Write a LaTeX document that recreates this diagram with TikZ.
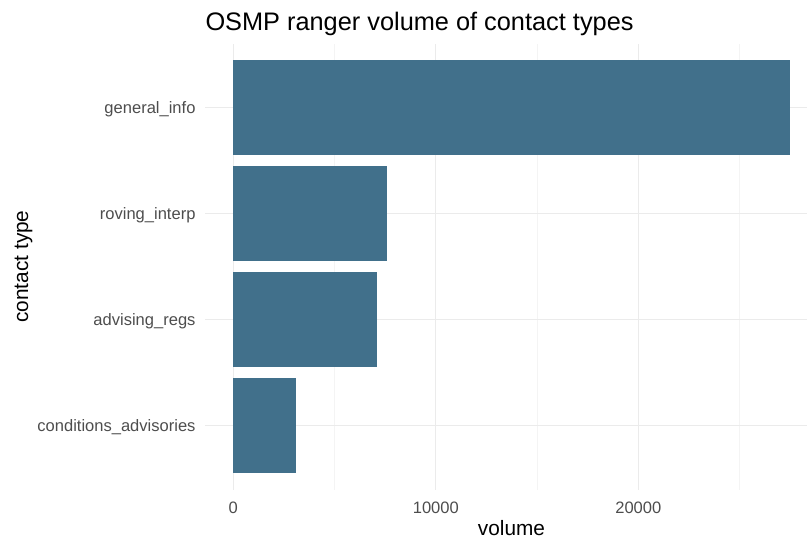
\documentclass[tikz,border=0pt]{standalone}
\usepackage{fontspec}
\setmainfont{Liberation Sans}

\definecolor{barfill}{RGB}{65,112,139}
\definecolor{gridmajor}{RGB}{235,235,235}
\definecolor{gridminor}{RGB}{244,244,244}
\definecolor{ticktext}{RGB}{77,77,77}

\tikzset{every picture/.style={line width=0.75pt}}
\tikzset{
  majorgrid/.style={draw=gridmajor, line width=0.8pt},
  minorgrid/.style={draw=gridminor, line width=0.45pt},
  bar/.style={fill=barfill, draw=none},
  ylab/.style={anchor=base east, inner sep=0pt, text=ticktext, font=\fontsize{12.4}{14}\selectfont},
  xlab/.style={anchor=base, inner sep=0pt, text=ticktext, font=\fontsize{12.4}{14}\selectfont},
  axistitle/.style={inner sep=0pt, font=\fontsize{15.6}{18}\selectfont},
}

\begin{document}
\begin{tikzpicture}[x=0.75pt,y=0.75pt,yscale=-1,xscale=1]
	\useasboundingbox (0,0) rectangle (807,539); %set diagram to 807 x 539

	%Minor grid lines
	\draw [minorgrid] (334.3,44) -- (334.3,490) ;
	\draw [minorgrid] (536.8,44) -- (536.8,490) ;
	\draw [minorgrid] (739.3,44) -- (739.3,490) ;
	%Major grid lines
	\draw [majorgrid] (233.3,44) -- (233.3,490) ;
	\draw [majorgrid] (435.8,44) -- (435.8,490) ;
	\draw [majorgrid] (638.3,44) -- (638.3,490) ;
	\draw [majorgrid] (205,107.5) -- (807,107.5) ;
	\draw [majorgrid] (205,213.5) -- (807,213.5) ;
	\draw [majorgrid] (205,319.6) -- (807,319.6) ;
	\draw [majorgrid] (205,425.7) -- (807,425.7) ;

	%Shape: Rectangle [general_info]
	\draw [bar] (233.3,60) rectangle (790,155) ;
	%Shape: Rectangle [roving_interp]
	\draw [bar] (233.3,166) rectangle (386.7,261) ;
	%Shape: Rectangle [advising_regs]
	\draw [bar] (233.3,272.1) rectangle (377,367.1) ;
	%Shape: Rectangle [conditions_advisories]
	\draw [bar] (233.3,378.2) rectangle (295.7,473.2) ;

	% Text Node
	\node [anchor=base west, inner sep=0pt, font=\fontsize{19}{22}\selectfont] (title) at (205,31) {OSMP ranger volume of contact types};

	% Text Node
	\node [ylab] (lblgeneral) at (196,113.5) {general\_info};
	% Text Node
	\node [ylab] (lblroving) at (196,219.5) {roving\_interp};
	% Text Node
	\node [ylab] (lbladvising) at (196,325.6) {advising\_regs};
	% Text Node
	\node [ylab] (lblconditions) at (196,431.7) {conditions\_advisories};

	% Text Node
	\node [xlab] (tickzero) at (233.3,513) {0};
	% Text Node
	\node [xlab] (tickten) at (435.8,513) {10000};
	% Text Node
	\node [xlab] (ticktwenty) at (638.3,513) {20000};

	% Text Node
	\node [axistitle, anchor=base] (xtitle) at (511.5,535) {volume};
	% Text Node
	\node [axistitle, anchor=base, rotate=90] (ytitle) at (28,266.5) {contact type};

\end{tikzpicture}
\end{document}
